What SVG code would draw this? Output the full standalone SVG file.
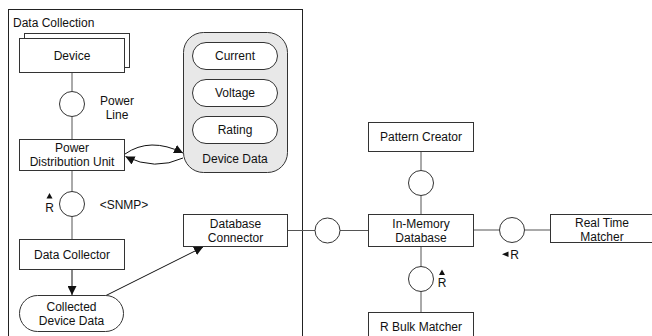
<svg xmlns="http://www.w3.org/2000/svg" width="652" height="336" viewBox="0 0 652 336">
<defs>
<style>
text{font-family:"Liberation Sans",Arial,sans-serif;font-size:12px;fill:#111;text-anchor:middle}
.t{text-anchor:start}
.box{fill:#fff;stroke:#333;stroke-width:1}
.frame{fill:#fff;stroke:#222;stroke-width:1}
.ln{fill:none;stroke:#555;stroke-width:1}
.ar{fill:none;stroke:#111;stroke-width:1}
.ball{fill:#fff;stroke:#333;stroke-width:1}
.tri{fill:#111}
</style>
<marker id="ah" viewBox="0 0 10 10" refX="10" refY="5" markerWidth="9" markerHeight="9" markerUnits="userSpaceOnUse" orient="auto">
<path d="M0,0 L10,5 L0,10 z" fill="#111"/>
</marker>
</defs>
<rect x="0" y="0" width="652" height="336" fill="#fff"/>

<g id="data-collection">
<rect class="frame" x="8.5" y="9.5" width="294" height="340"/>
<text class="t" x="13" y="26.5">Data Collection</text>
</g>

<g id="connectors">
<line class="ln" x1="72" y1="72" x2="72" y2="91"/>
<line class="ln" x1="72" y1="117" x2="72" y2="139"/>
<line class="ln" x1="72" y1="170" x2="72" y2="191.5"/>
<line class="ln" x1="72" y1="216.5" x2="72" y2="239"/>
<line class="ar" x1="72" y1="270" x2="72" y2="295" marker-end="url(#ah)"/>
<line class="ar" x1="103" y1="297" x2="203" y2="247" marker-end="url(#ah)"/>
<path class="ar" d="M125,154 Q150,136.5 183,153" marker-end="url(#ah)"/>
<path class="ar" d="M183,158 Q155,171 125.5,156.5" marker-end="url(#ah)"/>
<line class="ln" x1="287" y1="230.5" x2="315" y2="230.5"/>
<line class="ln" x1="340" y1="230.5" x2="368" y2="230.5"/>
<line class="ln" x1="421" y1="151" x2="421" y2="170.5"/>
<line class="ln" x1="421" y1="195.5" x2="421" y2="214"/>
<line class="ln" x1="421" y1="246" x2="421" y2="266.5"/>
<line class="ln" x1="421" y1="291.5" x2="421" y2="312"/>
<line class="ln" x1="473" y1="230" x2="499.5" y2="230"/>
<line class="ln" x1="524.5" y1="230" x2="550" y2="230"/>
</g>

<g id="device">
<rect class="box" x="24.5" y="33.5" width="105" height="34"/>
<rect class="box" x="19.5" y="38.5" width="105" height="34"/>
<text x="72" y="59.5">Device</text>
</g>

<g id="power-line">
<circle class="ball" cx="72" cy="104" r="12.5"/>
<text x="117" y="105">Power</text>
<text x="117" y="119">Line</text>
</g>

<g id="pdu">
<rect class="box" x="19.5" y="139.5" width="105" height="31"/>
<text x="72" y="152">Power</text>
<text x="72" y="166">Distribution Unit</text>
</g>

<g id="device-data">
<rect x="183.5" y="32.5" width="104" height="140" rx="20" ry="20" fill="#e8e8e8" stroke="#333"/>
<rect class="box" x="192.5" y="42.5" width="85" height="27" rx="13.5" ry="13.5"/>
<text x="235" y="60">Current</text>
<rect class="box" x="192.5" y="79.5" width="85" height="27" rx="13.5" ry="13.5"/>
<text x="235" y="97">Voltage</text>
<rect class="box" x="192.5" y="116.5" width="85" height="27" rx="13.5" ry="13.5"/>
<text x="235" y="134">Rating</text>
<text x="235" y="163">Device Data</text>
</g>

<g id="snmp">
<circle class="ball" cx="72" cy="204" r="12.5"/>
<polygon class="tri" points="46.5,198.5 52.5,198.5 49.5,193"/>
<text x="49.5" y="211.5">R</text>
<text x="124" y="209">&lt;SNMP&gt;</text>
</g>

<g id="data-collector">
<rect class="box" x="19.5" y="239.5" width="105" height="30"/>
<text x="72" y="259">Data Collector</text>
</g>

<g id="collected-device-data">
<rect class="box" x="19.5" y="295.5" width="104" height="36" rx="18" ry="18"/>
<text x="71.5" y="310.5">Collected</text>
<text x="71.5" y="324.5">Device Data</text>
</g>

<g id="database-connector">
<rect class="box" x="183.5" y="214.5" width="104" height="32"/>
<text x="235.5" y="227.5">Database</text>
<text x="235.5" y="241.5">Connector</text>
</g>

<g id="db-ball">
<circle class="ball" cx="327.5" cy="230.5" r="12.5"/>
</g>

<g id="in-memory-database">
<rect class="box" x="368.5" y="214.5" width="105" height="32"/>
<text x="421" y="227.5">In-Memory</text>
<text x="421" y="241.5">Database</text>
</g>

<g id="pattern-creator">
<rect class="box" x="368.5" y="122.5" width="105" height="29"/>
<text x="421" y="141">Pattern Creator</text>
</g>

<g id="pattern-ball">
<circle class="ball" cx="421" cy="183" r="12.5"/>
</g>

<g id="bulk-ball">
<circle class="ball" cx="421" cy="279" r="12.5"/>
<polygon class="tri" points="439,275 445,275 442,269.5"/>
<text x="442" y="286.5">R</text>
</g>

<g id="r-bulk-matcher">
<rect class="box" x="368.5" y="312.5" width="105" height="30"/>
<text x="421" y="330.5">R Bulk Matcher</text>
</g>

<g id="rt-ball">
<circle class="ball" cx="512" cy="230" r="12.5"/>
<polygon class="tri" points="508.5,251.5 508.5,257 502,254.25"/>
<text x="514.5" y="258.5">R</text>
</g>

<g id="real-time-matcher">
<rect class="box" x="550.5" y="214.5" width="110" height="28"/>
<text x="602" y="226.5">Real Time</text>
<text x="602" y="240.5">Matcher</text>
</g>
</svg>
